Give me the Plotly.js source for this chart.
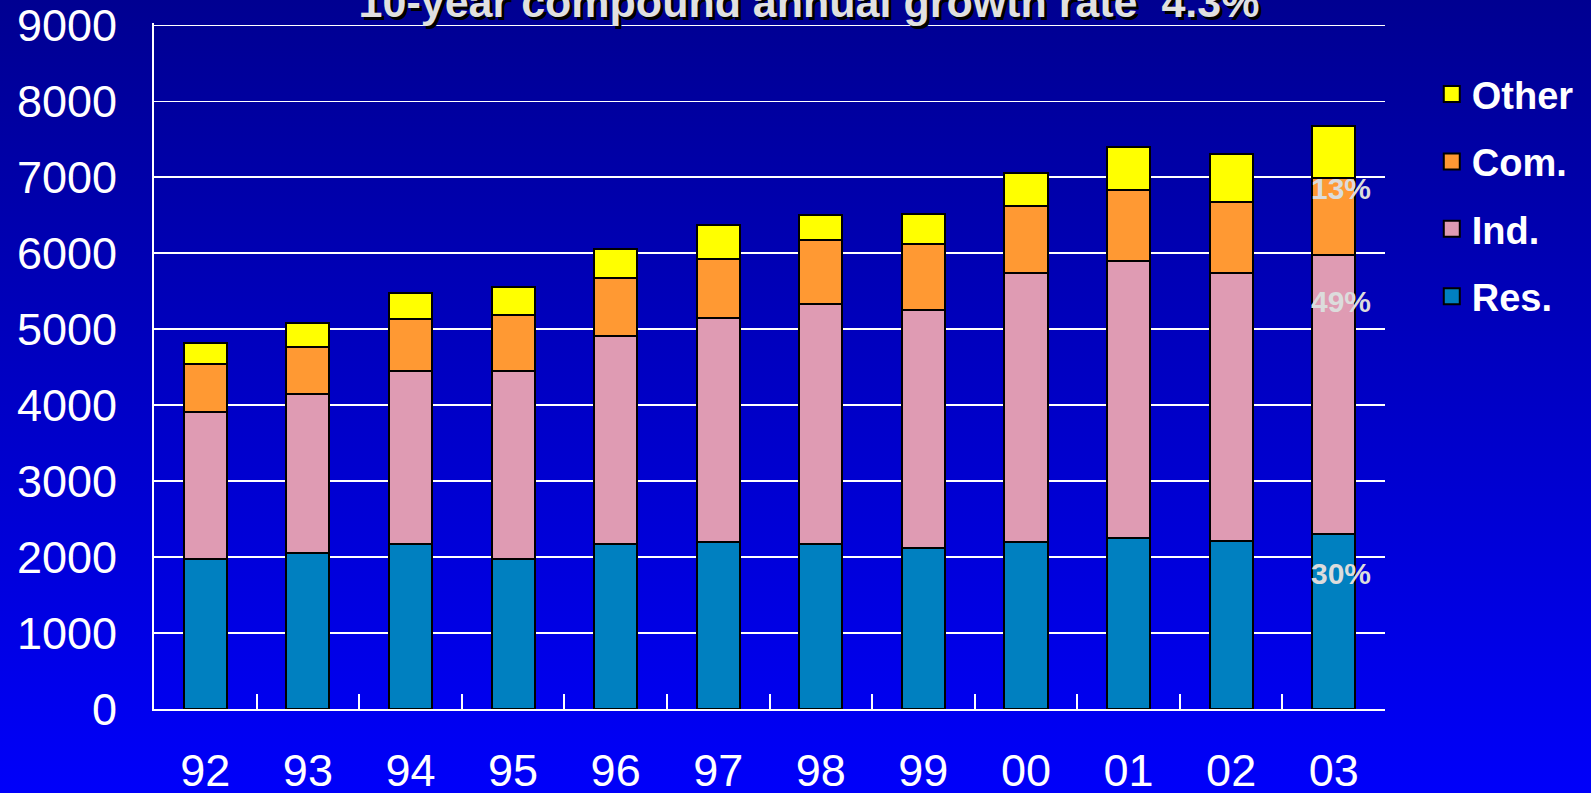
<!DOCTYPE html>
<html>
<head>
<meta charset="utf-8">
<script src="https://cdn.plot.ly/plotly-3.0.1.min.js"></script>
<style>
  html, body { margin: 0; padding: 0; }
  body { width: 1591px; height: 793px; overflow: hidden;
         background: linear-gradient(to bottom, #000091 0%, #0000FA 100%); }
  #chart { width: 1591px; height: 793px; }
</style>
</head>
<body>
<div id="chart"></div>
<script>
// ---- data ----
const years = ["92","93","94","95","96","97","98","99","00","01","02","03"];
const res   = [1975, 2050, 2175, 1970, 2175, 2200, 2175, 2125, 2200, 2245, 2205, 2310];
const ind   = [1930, 2095, 2280, 2485, 2730, 2945, 3155, 3130, 3545, 3655, 3530, 3665];
const com   = [ 630,  620,  680,  730,  765,  785,  840,  860,  870,  930,  945, 1010];
const other = [ 285,  315,  345,  375,  390,  440,  335,  395,  440,  570,  625,  695];
const seriesNames  = ["Res.", "Ind.", "Com.", "Other"];
const shareLabels  = ["30%", "49%", "13%"];   // shares of 03 for Res., Ind., Com.
const yTicks = [0, 1000, 2000, 3000, 4000, 5000, 6000, 7000, 8000, 9000];
const titleText = "10-year compound annual growth rate  4.3%";

const colors = ["#0080C0", "#DF9BB3", "#FF9933", "#FFFF00"];
const values = [res, ind, com, other];
const FONT = "Liberation Sans, Arial, Helvetica, sans-serif";

const traces = [];
values.forEach((v, i) => {
  traces.push({
    type: "bar", x: years, y: v, name: seriesNames[i],
    marker: { color: colors[i], line: { color: "#000000", width: 2 } },
    showlegend: false, hoverinfo: "x+y+name"
  });
});
// legend entries (larger square symbols), top-to-bottom: Other, Com., Ind., Res.
for (let i = values.length - 1; i >= 0; i--) {
  traces.push({
    type: "scatter", mode: "markers", x: [null], y: [null], name: seriesNames[i],
    legendgroup: "g" + i, showlegend: true, hoverinfo: "skip",
    marker: { symbol: "square", size: 16, color: colors[i], line: { color: "#000000", width: 2 } }
  });
}

// label positions (inside the last bar)
const labelY = [1780, 5370, 6845];
const annotations = shareLabels.map((t, i) => ({
  x: years.length - 1, y: labelY[i], xref: "x", yref: "y",
  text: t, showarrow: false, xshift: 7,
  font: { family: FONT, size: 30, color: "#DCDCDC", weight: "bold" }
}));

const layout = {
  width: 1591, height: 793,
  margin: { l: 154, r: 206, t: 23, b: 84 },
  paper_bgcolor: "rgba(0,0,0,0)",
  plot_bgcolor: "rgba(0,0,0,0)",
  barmode: "stack",
  bargap: 0.58,
  font: { family: FONT, color: "#FFFFFF" },
  title: {
    text: titleText, xref: "container", yref: "container",
    x: 0.5085, xanchor: "center", y: 0.979, yanchor: "bottom",
    font: { family: FONT, size: 43, color: "#E0E0E0", weight: "bold", shadow: "3px 3px 0px #000000" }
  },
  xaxis: {
    type: "category",
    showline: true, linecolor: "#FFFFFF", linewidth: 2,
    showgrid: false, zeroline: false,
    ticks: "inside", tickson: "boundaries", ticklen: 15, tickwidth: 2, tickcolor: "#FFFFFF",
    tickfont: { family: FONT, size: 45, color: "#FFFFFF" },
    ticklabelstandoff: 21
  },
  yaxis: {
    range: [0, 9030], tickmode: "array", tickvals: yTicks, ticktext: yTicks.map(String),
    showline: true, linecolor: "#FFFFFF", linewidth: 2,
    showgrid: true, gridcolor: "#FFFFFF", gridwidth: 1.5,
    zeroline: false, ticks: "",
    tickfont: { family: FONT, size: 45, color: "#FFFFFF" },
    ticklabelstandoff: 26
  },
  legend: {
    x: 1.038, xanchor: "left", y: 0.942, yanchor: "top",
    traceorder: "grouped", tracegroupgap: 15,
    bgcolor: "rgba(0,0,0,0)",
    font: { family: FONT, size: 38, color: "#FFFFFF", weight: "bold" }
  },
  annotations: annotations,
  showlegend: true
};

Plotly.newPlot("chart", traces, layout, { displayModeBar: false, staticPlot: true });
</script>
</body>
</html>
